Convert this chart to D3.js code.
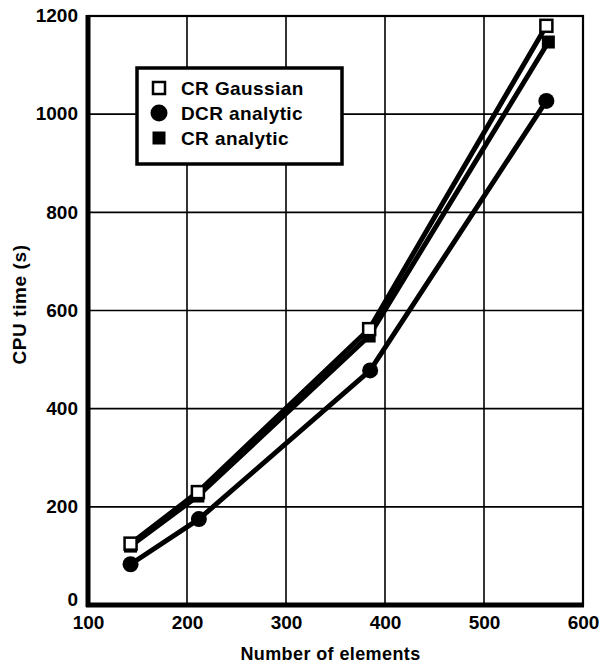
<!DOCTYPE html>
<html>
<head>
<meta charset="utf-8">
<script src="https://cdn.jsdelivr.net/npm/d3@7"></script>
<style>
  body { margin: 0; background: #fff; }
  text { font-family: 'Liberation Sans', Arial, sans-serif; font-weight: bold; fill: #000; }
</style>
</head>
<body>
<div class="viz"></div>
<script>
// tick values
const xTicks = [100, 200, 300, 400, 500, 600];
const yTicks = [0, 200, 400, 600, 800, 1000, 1200];

// series: [elements, cpu seconds]
const crGaussian = [[143, 125], [211, 230], [384, 562], [563, 1180]];
const dcrAnalytic = [[143, 83], [212, 175], [385, 478], [563, 1027]];
const crAnalytic = [[143, 120], [211, 222], [384, 548], [565, 1147]];

const legendNames = ['CR Gaussian', 'DCR analytic', 'CR analytic'];

const margin = { top: 16, right: 17, bottom: 65, left: 88 },
  width = 600 - margin.left - margin.right,
  height = 670 - margin.top - margin.bottom;

const x = d3.scaleLinear().domain([100, 600]).range([0, width]);
const y = d3.scaleLinear().domain([0, 1200]).range([height, 0]);

const svg = d3
  .select('.viz')
  .append('svg')
  .attr('width', 600)
  .attr('height', 670)
  .append('g')
  .attr('transform', 'translate(' + margin.left + ',' + margin.top + ')');

// grid
svg.append('g')
  .selectAll('line')
  .data(xTicks.slice(1, -1))
  .join('line')
  .attr('x1', d => x(d)).attr('x2', d => x(d))
  .attr('y1', 0).attr('y2', height)
  .attr('stroke', '#000').attr('stroke-width', 1.6);

svg.append('g')
  .selectAll('line')
  .data(yTicks.slice(1, -1))
  .join('line')
  .attr('y1', d => y(d)).attr('y2', d => y(d))
  .attr('x1', 0).attr('x2', width)
  .attr('stroke', '#000').attr('stroke-width', 1.6);

// frame: thin top/right, thick left/bottom
svg.append('rect')
  .attr('width', width).attr('height', height)
  .attr('fill', 'none').attr('stroke', '#000').attr('stroke-width', 2.2);
svg.append('line')
  .attr('x1', 0).attr('x2', 0).attr('y1', -1).attr('y2', height + 2)
  .attr('stroke', '#000').attr('stroke-width', 5);
svg.append('line')
  .attr('x1', -2).attr('x2', width + 1).attr('y1', height).attr('y2', height)
  .attr('stroke', '#000').attr('stroke-width', 5);

// axes (labels only)
const fmt = d3.format('d');
const xAxis = svg.append('g')
  .attr('transform', 'translate(0,' + height + ')')
  .call(d3.axisBottom(x).tickValues(xTicks).tickFormat(fmt).tickSize(0).tickPadding(11));
const yAxis = svg.append('g')
  .call(d3.axisLeft(y).tickValues(yTicks).tickFormat(fmt).tickSize(0).tickPadding(10));
[xAxis, yAxis].forEach(a => {
  a.select('.domain').remove();
  a.selectAll('text').attr('font-size', 19).attr('font-family', null);
});
yAxis.selectAll('text').attr('dy', d => d === 0 ? '0.05em' : '0.3em');

svg.append('text')
  .attr('x', width / 2 - 5)
  .attr('y', height + 55)
  .attr('text-anchor', 'middle')
  .attr('font-size', 18)
  .attr('letter-spacing', 0.4)
  .text('Number of elements');

svg.append('text')
  .attr('transform', 'translate(-62,' + (height / 2 - 6) + ') rotate(-90)')
  .attr('text-anchor', 'middle')
  .attr('font-size', 19)
  .attr('letter-spacing', 0.6)
  .text('CPU time (s)');

// legend
const lg = svg.append('g').attr('transform', 'translate(49,52)');
lg.append('rect')
  .attr('width', 205).attr('height', 96)
  .attr('fill', '#fff').attr('stroke', '#000').attr('stroke-width', 3.5);
const rows = lg.selectAll('g.row')
  .data(legendNames)
  .join('g')
  .attr('transform', (d, i) => 'translate(22,' + (20 + i * 25) + ')');
rows.append('text')
  .attr('x', 22).attr('dy', '0.35em')
  .attr('font-size', 19)
  .attr('letter-spacing', 0.4)
  .text(d => d);

// lines
const line = d3.line().x(d => x(d[0])).y(d => y(d[1]));
[crAnalytic, crGaussian, dcrAnalytic].forEach(s => {
  svg.append('path')
    .datum(s)
    .attr('d', line)
    .attr('fill', 'none')
    .attr('stroke', '#000')
    .attr('stroke-width', 5)
    .attr('stroke-linejoin', 'round');
});

// markers
function filledSquare(g, size) {
  g.append('rect')
    .attr('x', -size / 2).attr('y', -size / 2)
    .attr('width', size).attr('height', size)
    .attr('fill', '#000');
}
function openSquare(g, size) {
  g.append('rect')
    .attr('x', -size / 2).attr('y', -size / 2)
    .attr('width', size).attr('height', size)
    .attr('fill', '#fff').attr('stroke', '#000').attr('stroke-width', 2.5);
}
function circle(g, r) {
  g.append('circle').attr('r', r).attr('fill', '#000');
}

svg.selectAll('g.cra')
  .data(crAnalytic).join('g')
  .attr('transform', d => 'translate(' + x(d[0]) + ',' + y(d[1]) + ')')
  .each(function() { filledSquare(d3.select(this), 13); });
svg.selectAll('g.dcr')
  .data(dcrAnalytic).join('g')
  .attr('transform', d => 'translate(' + x(d[0]) + ',' + y(d[1]) + ')')
  .each(function() { circle(d3.select(this), 8); });
svg.selectAll('g.crg')
  .data(crGaussian).join('g')
  .attr('transform', d => 'translate(' + x(d[0]) + ',' + y(d[1]) + ')')
  .each(function() { openSquare(d3.select(this), 12); });

// legend symbols
openSquare(rows.filter((d, i) => i === 0), 12);
circle(rows.filter((d, i) => i === 1), 8.5);
filledSquare(rows.filter((d, i) => i === 2), 13);
</script>
</body>
</html>
